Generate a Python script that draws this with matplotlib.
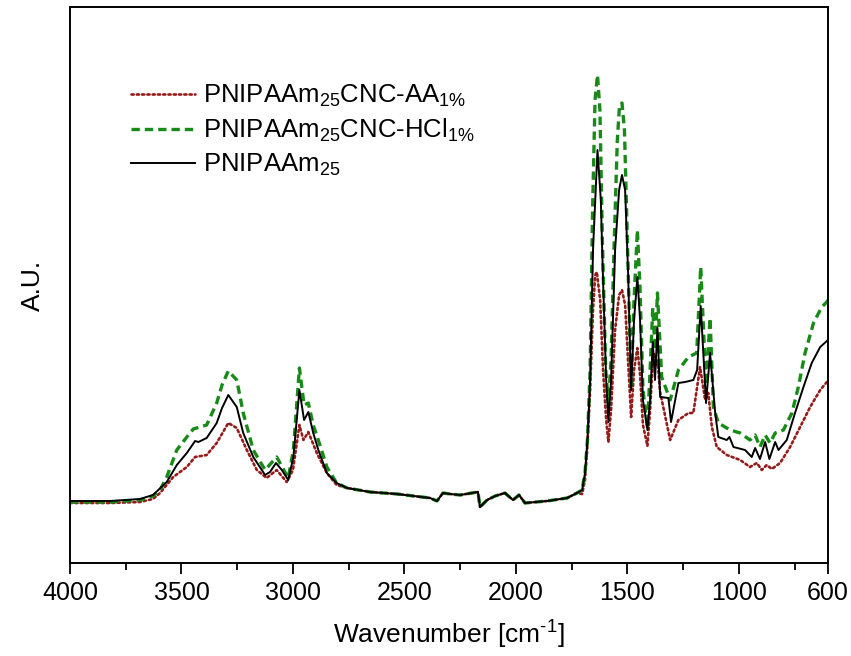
import matplotlib
matplotlib.use("Agg")
import matplotlib.pyplot as plt
import numpy as np
from matplotlib import font_manager

plt.rcParams['font.family'] = ['Liberation Sans', 'DejaVu Sans']
plt.rcParams['mathtext.fontset'] = 'custom'
plt.rcParams['mathtext.rm'] = 'Liberation Sans'
plt.rcParams['mathtext.it'] = 'Liberation Sans'
plt.rcParams['mathtext.default'] = 'regular'
plt.rcParams['lines.scale_dashes'] = False

# ---- data (wavenumber in cm-1, absorbance in arbitrary units) ----
baseline_wn = [2757, 2654, 2533, 2385, 2354, 2327, 2295, 2250, 2170, 2161, 2129,
               2093, 2049, 2013, 1986, 1959, 1860, 1770, 1726]
baseline_au = [0.12, 0.08, 0.06, 0.02, -0.01, 0.07, 0.06, 0.05, 0.08, -0.07, 0.00,
               0.04, 0.07, 0.00, 0.05, -0.03, -0.01, 0.02, 0.07]

# PNIPAAm25 (black)
pn_hi_wn = [4000, 3820, 3686, 3628, 3566, 3521, 3476, 3439, 3424, 3387, 3342, 3318,
            3290, 3252, 3223, 3178, 3125, 3103, 3076, 3050, 3021, 2998, 2971, 2950,
            2931, 2909, 2886, 2848, 2804]
pn_hi_au = [-0.01, -0.01, 0.01, 0.05, 0.18, 0.35, 0.47, 0.59, 0.58, 0.62, 0.77, 0.92,
            1.05, 0.93, 0.67, 0.43, 0.25, 0.28, 0.37, 0.30, 0.20, 0.43, 1.10, 0.80,
            0.88, 0.67, 0.50, 0.27, 0.17]
pn_lo_wn = [1703, 1690, 1679, 1667, 1654, 1634, 1619, 1609, 1595, 1585, 1573, 1555,
            1537, 1524, 1510, 1497, 1483, 1470, 1455, 1443, 1430, 1410, 1398, 1386,
            1376, 1365, 1353, 1316, 1304, 1271, 1241, 1204, 1187, 1171, 1147, 1129,
            1106, 1092, 1054, 1042, 1024, 972, 942, 927, 905, 882, 863, 837, 822,
            785, 748, 710, 673, 635, 605, 600]
pn_lo_au = [0.10, 0.27, 0.60, 1.20, 2.50, 3.50, 3.00, 2.20, 1.20, 0.78, 1.20, 2.50,
            3.10, 3.25, 3.10, 2.30, 1.10, 1.80, 2.23, 1.80, 1.00, 0.70, 1.00, 1.58,
            1.20, 1.72, 1.03, 1.02, 0.78, 1.17, 1.18, 1.20, 1.30, 1.94, 0.97, 1.47,
            0.87, 0.63, 0.60, 0.63, 0.53, 0.50, 0.43, 0.52, 0.41, 0.58, 0.41, 0.58, 0.50,
            0.60, 0.87, 1.13, 1.37, 1.53, 1.59, 1.60]

# PNIPAAm25CNC-HCl1% (green)
hcl_hi_wn = [4000, 3820, 3686, 3628, 3596, 3566, 3521, 3476, 3447, 3387, 3342, 3318,
             3290, 3252, 3223, 3178, 3125, 3073, 3021, 2998, 2971, 2950, 2931, 2909,
             2879, 2848, 2804]
hcl_hi_au = [-0.02, -0.02, 0.00, 0.04, 0.10, 0.23, 0.50, 0.63, 0.71, 0.75, 0.97, 1.15,
             1.29, 1.20, 0.87, 0.50, 0.30, 0.43, 0.22, 0.50, 1.32, 0.95, 0.97, 0.75,
             0.55, 0.33, 0.17]
hcl_lo_wn = [1703, 1690, 1679, 1667, 1656, 1645, 1634, 1623, 1612, 1597, 1585, 1573,
             1560, 1545, 1535, 1524, 1513, 1500, 1483, 1470, 1455, 1443, 1430, 1410,
             1398, 1386, 1376, 1365, 1346, 1308, 1271, 1226, 1189, 1171, 1147, 1129,
             1114, 1092, 1039, 994, 950, 927, 905, 882, 860, 837, 800, 762, 733, 703,
             665, 628, 605, 600]
hcl_lo_au = [0.10, 0.27, 0.60, 1.30, 2.90, 4.00, 4.25, 3.90, 2.60, 1.30, 0.97, 1.40,
             2.50, 3.60, 3.95, 3.97, 3.70, 2.60, 1.15, 2.00, 2.70, 2.10, 1.10, 0.73,
             1.30, 1.92, 1.50, 2.07, 1.23, 1.00, 1.30, 1.43, 1.47, 2.33, 1.15, 1.82,
             0.93, 0.77, 0.70, 0.67, 0.60, 0.65, 0.53, 0.65, 0.57, 0.67, 0.70, 0.87,
             1.13, 1.47, 1.77, 1.93, 1.98, 2.00]

# PNIPAAm25CNC-AA1% (red)
aa_hi_wn = [4000, 3820, 3686, 3628, 3596, 3537, 3476, 3439, 3387, 3342, 3290, 3252,
            3207, 3162, 3118, 3073, 3028, 3000, 2971, 2953, 2931, 2893, 2848, 2804]
aa_hi_au = [-0.03, -0.03, -0.02, 0.01, 0.07, 0.23, 0.33, 0.43, 0.45, 0.57, 0.77, 0.72,
            0.50, 0.30, 0.22, 0.30, 0.18, 0.30, 0.75, 0.60, 0.68, 0.47, 0.27, 0.15]
aa_lo_wn = [1703, 1690, 1679, 1667, 1654, 1644, 1637, 1622, 1609, 1595, 1585, 1573,
            1555, 1537, 1524, 1510, 1497, 1483, 1470, 1455, 1443, 1430, 1410, 1398,
            1386, 1380, 1370, 1365, 1353, 1308, 1271, 1226, 1204, 1174, 1151, 1137,
            1121, 1099, 1054, 994, 950, 919, 897, 875, 852, 815, 770, 725, 680, 635,
            605, 600]
aa_lo_au = [0.06, 0.20, 0.55, 1.10, 1.90, 2.25, 2.28, 2.00, 1.30, 0.80, 0.58, 0.90,
            1.70, 2.05, 2.10, 1.95, 1.40, 0.83, 1.30, 1.52, 1.25, 0.75, 0.54, 0.90,
            1.40, 1.47, 1.35, 1.40, 1.08, 0.60, 0.80, 0.87, 0.87, 1.33, 1.00, 1.07,
            0.73, 0.53, 0.45, 0.40, 0.33, 0.37, 0.30, 0.35, 0.31, 0.37, 0.53, 0.73,
            0.93, 1.10, 1.18, 1.19]

labels = [r'PNIPAAm$_{25}$CNC-AA$_{1\%}$',
          r'PNIPAAm$_{25}$CNC-HCl$_{1\%}$',
          r'PNIPAAm$_{25}$']
xticks = [4000, 3500, 3000, 2500, 2000, 1500, 1000, 600]
minor_ticks = [3750, 3250, 2750, 2250, 1750, 1250, 750]

def series(hi_wn, hi_au, lo_wn, lo_au):
    return (np.array(hi_wn + baseline_wn + lo_wn, float),
            np.array(hi_au + baseline_au + lo_au, float))

fig = plt.figure(figsize=(8.51, 6.56), dpi=100)
ax = fig.add_axes([70/851, 93/656, 758/851, 556/656])

x, y = series(aa_hi_wn, aa_hi_au, aa_lo_wn, aa_lo_au)
ax.plot(x, y, color='#961c1c', lw=1.9, linestyle=(0, (1.6, 2.2)),
        dash_capstyle='round', label=labels[0])
x, y = series(hcl_hi_wn, hcl_hi_au, hcl_lo_wn, hcl_lo_au)
ax.plot(x, y, color='#178a17', lw=2.4, linestyle=(0, (6.0, 3.6)), label=labels[1])
x, y = series(pn_hi_wn, pn_hi_au, pn_lo_wn, pn_lo_au)
ax.plot(x, y, color='black', lw=1.4, label=labels[2])

ax.set_xlim(4000, 600)
ax.set_ylim(-0.63, 4.93)
ax.set_xticks(xticks)
ax.set_xticks(minor_ticks, minor=True)
ax.set_yticks([])
ax.tick_params(axis='x', which='major', direction='out', length=8, width=1.3,
               labelsize=18, pad=5, top=False)
ax.tick_params(axis='x', which='minor', direction='out', length=5, width=1.3, top=False)

# use a narrow face for the tick labels if one is installed
names = {f.name for f in font_manager.fontManager.ttflist}
if 'Liberation Sans Narrow' in names:
    for lab in ax.get_xticklabels():
        lab.set_family('Liberation Sans Narrow')
        lab.set_fontsize(20)

for s in ax.spines.values():
    s.set_linewidth(1.4)

ax.set_xlabel(r'Wavenumber [cm$^{\text{-}1}$]', fontsize=19, labelpad=10)
ax.set_ylabel('A.U.', fontsize=19, labelpad=18)

leg = ax.legend(loc='upper left', bbox_to_anchor=(0.08, 0.863), frameon=False,
                fontsize=18.5, handlelength=2.5, handletextpad=0.3, labelspacing=0.3,
                borderpad=0, borderaxespad=0)

fig.savefig('out.png', dpi=100)
